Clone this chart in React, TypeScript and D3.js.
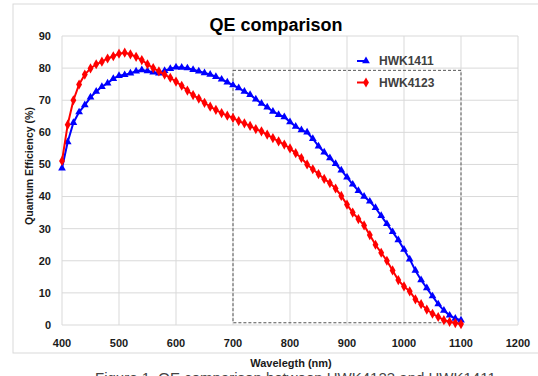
import React from "react";
import * as d3 from "d3";

const wavelengths: number[] = [
  400, 410, 420, 430, 440, 450, 460, 470, 480, 490, 500, 510, 520, 530, 540, 550, 560, 570, 580, 590,
  600, 610, 620, 630, 640, 650, 660, 670, 680, 690, 700, 710, 720, 730, 740, 750, 760, 770, 780, 790,
  800, 810, 820, 830, 840, 850, 860, 870, 880, 890, 900, 910, 920, 930, 940, 950, 960, 970, 980, 990,
  1000, 1010, 1020, 1030, 1040, 1050, 1060, 1070, 1080, 1090, 1100,
];

const hwk1411: number[] = [
  48.8, 57, 63, 66.3, 68.5, 70.9, 72.7, 74.2, 75.3, 76.7, 77.6, 77.9, 78.4, 79, 79.4, 79.1, 78.7, 78.4, 79.2, 79.8,
  80.3, 80.2, 80, 79.5, 79, 78.5, 78, 77.3, 76.5, 75.6, 74.7, 73.8, 72.7, 71.7, 70.3, 69, 67.8, 66.5, 65.5, 64.8,
  63.2, 61.8, 60.7, 60, 58, 55.7, 53.8, 52, 50.2, 48.2, 46, 43.8, 41.8, 40, 38.5, 36.5, 34, 31.5, 29, 26.5,
  23.5, 20.5, 17, 14, 11.5, 9, 6.5, 4.5, 3, 2, 1.5,
];

const hwk4123: number[] = [
  51.1, 62.4, 70, 74.9, 78, 79.9, 81.2, 82, 83, 83.7, 84.5, 84.8, 84.3, 83.5, 82.5, 81.2, 80, 79, 78, 77,
  75.8, 74.5, 73, 71.6, 70.5, 69.2, 68, 67, 66, 65.2, 64.5, 63.5, 62.8, 62, 61, 60.3, 59.3, 58.2, 57.2, 56.2,
  55, 53.5, 52, 50, 48.5, 47, 45.5, 44.2, 42.5, 40.2, 37.5, 35, 33, 31, 28, 25, 22.5, 20, 17, 14,
  12, 10.5, 8, 6.5, 4.8, 3.5, 2.5, 1.5, 1, 0.6, 0.3,
];

const xTicks: number[] = [400, 500, 600, 700, 800, 900, 1000, 1100, 1200];
const yTicks: number[] = [0, 10, 20, 30, 40, 50, 60, 70, 80, 90];
const seriesNames: string[] = ["HWK1411", "HWK4123"];
const seriesColors: string[] = ["#0000ff", "#ff0000"];
const zoomBox: number[] = [700, 1100, 0.7, 79.3];

const W = 538;
const H = 376;
const FONT = "'Liberation Sans', Arial, sans-serif";

export default function App() {
  const x = d3.scaleLinear().domain([400, 1200]).range([62, 518]);
  const y = d3.scaleLinear().domain([0, 90]).range([325, 36]);

  const series = [hwk1411, hwk4123];
  const symbols = [d3.symbolTriangle, d3.symbolDiamond];
  const symSizes = [26, 30];

  const line = d3
    .line<number>()
    .x((_, i) => x(wavelengths[i]))
    .y((d) => y(d));

  return (
    <svg
      width={W}
      height={H}
      style={{ position: "absolute", left: 0, top: 0, background: "#fff" }}
    >
      <rect x={0} y={0} width={W} height={H} fill="#fff" />
      <rect x={13} y={4} width={W} height={349} fill="#fff" stroke="#d9d9d9" strokeWidth={1} />

      {/* gridlines */}
      {yTicks.map((t) => (
        <line key={"gy" + t} x1={x(400)} x2={x(1200)} y1={y(t)} y2={y(t)} stroke="#d9d9d9" strokeWidth={1} />
      ))}
      {xTicks.map((t) => (
        <line key={"gx" + t} x1={x(t)} x2={x(t)} y1={y(0)} y2={y(90)} stroke="#d9d9d9" strokeWidth={1} />
      ))}

      {/* tick labels */}
      {yTicks.map((t) => (
        <text
          key={"ty" + t}
          x={51}
          y={y(t)}
          dy="0.35em"
          textAnchor="end"
          fontFamily={FONT}
          fontWeight="bold"
          fontSize={11}
          fill="#1a1a1a"
        >
          {t}
        </text>
      ))}
      {xTicks.map((t) => (
        <text
          key={"tx" + t}
          x={x(t)}
          y={343}
          dy="0.35em"
          textAnchor="middle"
          fontFamily={FONT}
          fontWeight="bold"
          fontSize={11}
          fill="#1a1a1a"
        >
          {t}
        </text>
      ))}

      {/* axis titles */}
      <text
        x={291}
        y={363}
        dy="0.35em"
        textAnchor="middle"
        fontFamily={FONT}
        fontWeight="bold"
        fontSize={11}
        fill="#1a1a1a"
      >
        Wavelegth (nm)
      </text>
      <text
        transform={`translate(29,166) rotate(-90)`}
        dy="0.35em"
        textAnchor="middle"
        fontFamily={FONT}
        fontWeight="bold"
        fontSize={10.5}
        fill="#1a1a1a"
      >
        Quantum Efficiency (%)
      </text>

      {/* title */}
      <text
        x={276}
        y={25}
        dy="0.35em"
        textAnchor="middle"
        fontFamily={FONT}
        fontWeight="bold"
        fontSize={18}
        fill="#000"
      >
        QE comparison
      </text>

      {/* dashed region */}
      <rect
        x={x(zoomBox[0])}
        y={y(zoomBox[3])}
        width={x(zoomBox[1]) - x(zoomBox[0])}
        height={y(zoomBox[2]) - y(zoomBox[3])}
        fill="none"
        stroke="#555"
        strokeWidth={1}
        strokeDasharray="3,2"
      />

      {/* series */}
      {series.map((s, si) => (
        <g key={"s" + si}>
          <path d={line(s) || ""} fill="none" stroke={seriesColors[si]} strokeWidth={2} />
          {s.map((v, i) => (
            <path
              key={i}
              d={d3.symbol().type(symbols[si]).size(symSizes[si])() || ""}
              transform={`translate(${x(wavelengths[i])},${y(v)})`}
              fill={seriesColors[si]}
            />
          ))}
        </g>
      ))}

      {/* legend */}
      {seriesNames.map((n, i) => (
        <g key={"l" + i} transform={`translate(357,${61 + i * 21.5})`}>
          <line x1={0} x2={11} y1={0} y2={0} stroke={seriesColors[i]} strokeWidth={2} />
          <path
            d={d3.symbol().type(symbols[i]).size(symSizes[i])() || ""}
            transform="translate(9,0)"
            fill={seriesColors[i]}
          />
          <text x={22} y={0} dy="0.35em" fontFamily={FONT} fontWeight="bold" fontSize={12} fill="#404040">
            {n}
          </text>
        </g>
      ))}

      {/* caption (cut off) */}
      <text x={95} y={383} fontFamily={FONT} fontSize={15} fill="#444">
        Figure 1. QE comparison between HWK4123 and HWK1411
      </text>
    </svg>
  );
}
